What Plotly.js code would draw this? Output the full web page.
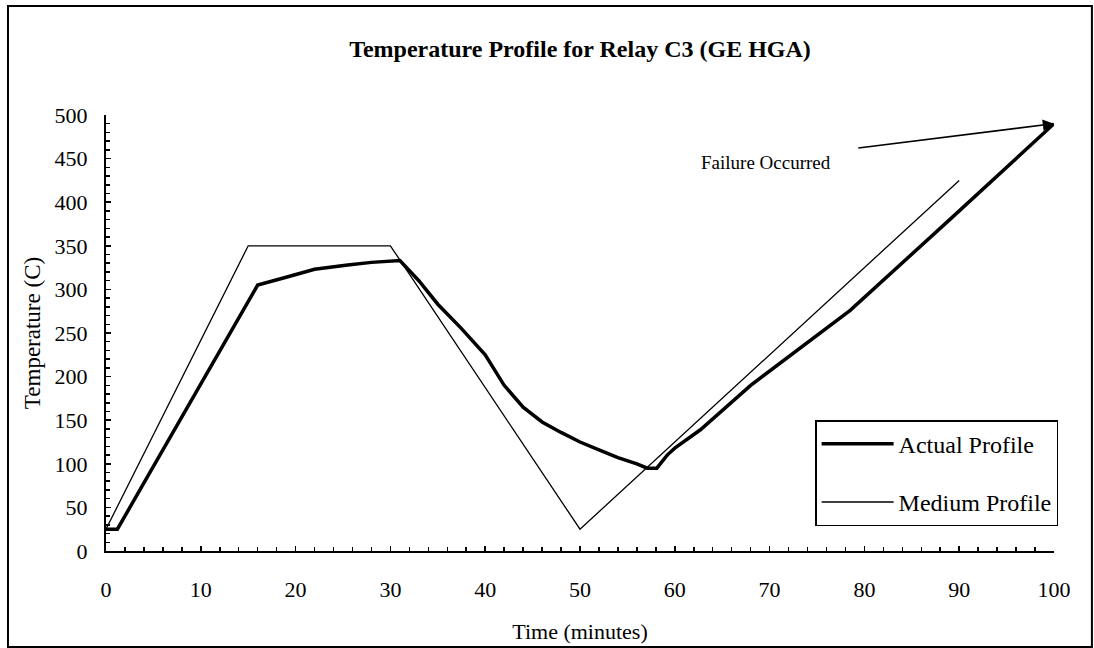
<!DOCTYPE html>
<html>
<head>
<meta charset="utf-8">
<script src="https://cdn.plot.ly/plotly-3.0.1.min.js"></script>
<style>html,body{margin:0;padding:0;background:#fff;}#chart{width:1094px;height:648px;}</style>
</head>
<body>
<div id="chart"></div>
<script>
const actualTime = [0, 1.2, 4, 8, 12, 16, 19, 22, 25.5, 28, 31, 33, 35, 37.5, 40, 42, 44, 46, 48, 50, 52, 54, 56, 57.1, 58.1, 59.2, 60, 62.7, 68, 78.5, 89, 100];
const actualTemp = [25, 25, 78, 153, 229, 305, 314, 323, 328, 331, 333, 310, 283, 255, 225, 190, 165, 148, 136, 125, 116, 107, 100, 95, 95, 110, 118, 139, 190, 276, 380, 490];
const mediumTime = [0, 15, 30, 50, 90];
const mediumTemp = [25, 350, 350, 25, 425];
const failurePoint = {tail: [79.2, 462], tip: [100, 490], label: "Failure Occurred", labelAt: [69.6, 446]};

const serif = "Liberation Serif, Times New Roman, serif";

const traces = [
  {x: actualTime, y: actualTemp, type: "scatter", mode: "lines", name: "Actual Profile",
   line: {color: "#000", width: 3.5}, cliponaxis: false, legendgroup: "a"},
  {x: mediumTime, y: mediumTemp, type: "scatter", mode: "lines", name: "Medium Profile",
   line: {color: "#000", width: 1.3}, cliponaxis: false, legendgroup: "b"}
];

const layout = {
  width: 1094, height: 648,
  margin: {l: 106, r: 40, t: 115, b: 97},
  paper_bgcolor: "#fff", plot_bgcolor: "#fff",
  font: {family: serif, color: "#000", size: 22},
  showlegend: true,
  title: {text: "<b>Temperature Profile for Relay C3 (GE HGA)</b>", font: {family: serif, size: 24, color: "#000"},
          xref: "paper", x: 0.5, xanchor: "center", yref: "container", y: 0.925, yanchor: "middle"},
  xaxis: {range: [0, 100], dtick: 10, tick0: 0, ticks: "inside", ticklen: 5, tickwidth: 1.5, tickcolor: "#000",
          showline: true, linecolor: "#000", linewidth: 2, showgrid: false, zeroline: false,
          ticklabelstandoff: 18,
          minor: {dtick: 2, ticks: "inside", ticklen: 4, tickwidth: 1.5, tickcolor: "#000", showgrid: false},
          tickfont: {family: serif, size: 22, color: "#000"},
          title: {text: "Time (minutes)", font: {family: serif, size: 22, color: "#000"}, standoff: 22},
          automargin: false},
  yaxis: {range: [0, 500], dtick: 50, tick0: 0, ticks: "inside", ticklen: 5, tickwidth: 1.5, tickcolor: "#000",
          showline: true, linecolor: "#000", linewidth: 2, showgrid: false, zeroline: false,
          ticklabelstandoff: 12,
          minor: {dtick: 10, ticks: "inside", ticklen: 4, tickwidth: 1.5, tickcolor: "#000", showgrid: false},
          tickfont: {family: serif, size: 22, color: "#000"},
          title: {text: "Temperature (C)", font: {family: serif, size: 23, color: "#000"}, standoff: 8},
          automargin: false},
  legend: {x: 0.748, xanchor: "left", y: 0.30, yanchor: "top", bordercolor: "#000", borderwidth: 1.5,
           bgcolor: "#fff", font: {family: serif, size: 24, color: "#000"}, itemwidth: 72,
           traceorder: "grouped", tracegroupgap: 24},
  annotations: [
    {x: failurePoint.tip[0], y: failurePoint.tip[1], xref: "x", yref: "y",
     ax: failurePoint.tail[0], ay: failurePoint.tail[1], axref: "x", ayref: "y",
     text: "", showarrow: true, arrowhead: 2, arrowsize: 1.4, arrowwidth: 1.6, arrowcolor: "#000", standoff: 0},
    {x: failurePoint.labelAt[0], y: failurePoint.labelAt[1], xref: "x", yref: "y", text: failurePoint.label,
     showarrow: false, font: {family: serif, size: 19, color: "#000"}, xanchor: "center", yanchor: "middle"}
  ],
  shapes: [
    {type: "rect", xref: "paper", yref: "paper", x0: -0.1034, x1: 1.040, y0: -0.220, y1: 1.250,
     line: {color: "#000", width: 2}, fillcolor: "rgba(0,0,0,0)"}
  ]
};

Plotly.newPlot("chart", traces, layout, {displayModeBar: false, staticPlot: true});
</script>
</body>
</html>
